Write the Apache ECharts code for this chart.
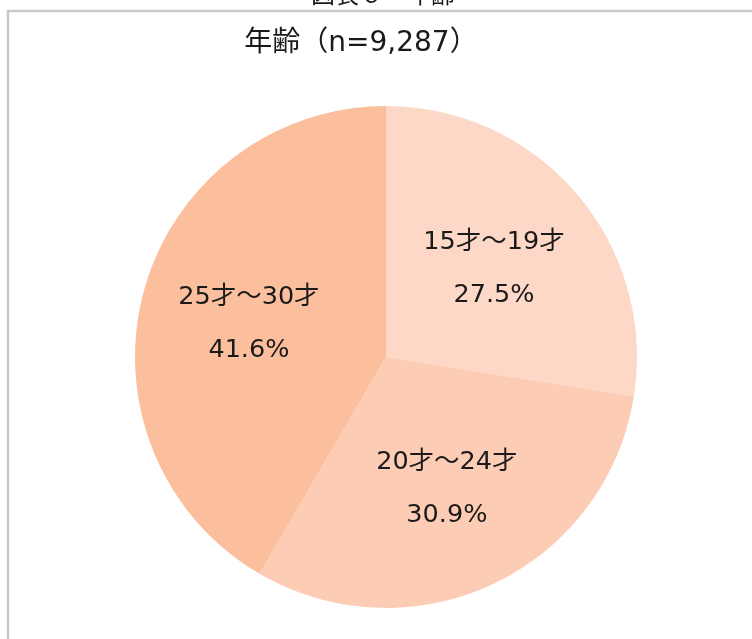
<!DOCTYPE html>
<html><head><meta charset="utf-8">
<script src="https://cdn.jsdelivr.net/npm/echarts@6/dist/echarts.min.js"></script>
<style>html,body{margin:0;padding:0;background:#fff}#c{width:752px;height:639px}</style>
</head><body><div id="c"></div>
<script>
const categories = ['15才～19才', '20才～24才', '25才～30才'];
const values = [27.5, 30.9, 41.6];
const colors = ['#FDD8C6', '#FCCCB4', '#FCBF9E'];
const titleText = '年齢（n=9,287）';
const captionText = '図表６　年齢';

const font = '"DejaVu Sans", "Noto Sans CJK JP", sans-serif';
const data = categories.map((n, i) => ({ name: n, value: values[i], itemStyle: { color: colors[i] } }));
const chart = echarts.init(document.getElementById('c'), null, { renderer: 'canvas' });
chart.setOption({
  animation: false,
  title: { text: titleText, left: 356, top: 25, textAlign: 'center',
    textStyle: { fontFamily: font, fontSize: 28, fontWeight: 'normal', color: '#1a1a1a' } },
  graphic: [
    { type: 'rect', shape: { x: 8, y: 11, width: 760, height: 640 }, style: { fill: 'none', stroke: '#c8c8c8', lineWidth: 2.5 }, silent: true },
    { type: 'text', x: 383, y: -15, style: { text: captionText, fontFamily: font, fontSize: 24, fill: '#1a1a1a', align: 'center', verticalAlign: 'top' }, silent: true }
  ],
  series: [
    { type: 'pie', center: [386, 357], radius: [0, 251], startAngle: 90, clockwise: true,
      label: { show: false }, labelLine: { show: false }, silent: true,
      itemStyle: { borderWidth: 0 }, data: data },
    { type: 'pie', center: [386, 357], radius: [0, 278], startAngle: 90, clockwise: true, silent: true,
      itemStyle: { color: 'rgba(0,0,0,0)', borderWidth: 0 },
      labelLine: { show: false },
      label: { show: true, position: 'inside', formatter: p => p.name + '\n' + p.value.toFixed(1) + '%',
        offset: [0, 4],
        fontFamily: font, fontSize: 25.5, lineHeight: 53, color: '#1a1a1a' },
      data: categories.map((n, i) => ({ name: n, value: values[i] })) }
  ]
});
</script></body></html>
